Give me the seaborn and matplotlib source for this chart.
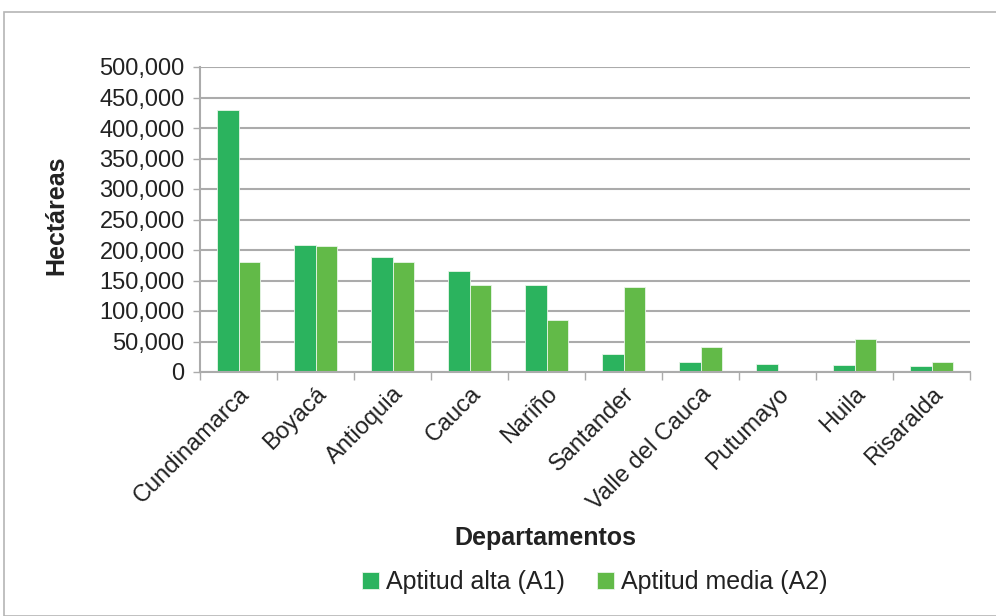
import matplotlib
matplotlib.use("Agg")
import matplotlib.pyplot as plt
from matplotlib.patches import Rectangle
from matplotlib.ticker import FuncFormatter, FixedLocator, MultipleLocator
import seaborn as sns
import pandas as pd
import numpy as np

departamentos = ["Cundinamarca", "Boyacá", "Antioquia", "Cauca", "Nariño",
                 "Santander", "Valle del Cauca", "Putumayo", "Huila", "Risaralda"]
aptitud_alta = [430000, 207500, 189000, 164800, 142500, 29000, 16000, 13300, 11000, 9500]
aptitud_media = [181000, 206500, 181000, 142400, 84700, 140100, 41700, 1500, 54500, 17200]
series_names = ["Aptitud alta (A1)", "Aptitud media (A2)"]
colors = ["#2BB35E", "#62BA48"]

df = pd.DataFrame({
    "Departamento": departamentos * 2,
    "Serie": [series_names[0]] * len(departamentos) + [series_names[1]] * len(departamentos),
    "Hectáreas": aptitud_alta + aptitud_media,
})

sns.set_theme(style="white")
plt.rcParams["font.family"] = ["Liberation Sans", "DejaVu Sans"]

fig = plt.figure(figsize=(9.96, 6.16), dpi=100)
ax = fig.add_axes([200 / 996, 1 - 372 / 616, 770 / 996, 305 / 616])

sns.barplot(data=df, x="Departamento", y="Hectáreas", hue="Serie",
            palette=colors, width=0.56, ax=ax, edgecolor="#E8F5E8", linewidth=0.6,
            saturation=1, legend=True)

grid_c = "#ABABAB"
txt_c = "#222222"
ax.set_ylim(0, 500000)
ax.set_xlim(-0.5, len(departamentos) - 0.5)
ax.yaxis.set_major_locator(MultipleLocator(50000))
ax.yaxis.set_major_formatter(FuncFormatter(lambda v, p: f"{int(v):,}"))
ax.grid(axis="y", color=grid_c, linewidth=1.5)
ax.set_axisbelow(True)
for s in ["top", "right"]:
    ax.spines[s].set_visible(False)
for s in ["left", "bottom"]:
    ax.spines[s].set_color(grid_c)
    ax.spines[s].set_linewidth(1.5)

ax.tick_params(axis="y", length=5, width=1, color=grid_c, labelsize=17,
               labelcolor=txt_c, pad=6, left=True)
ax.tick_params(axis="x", which="major", length=0, labelsize=17,
               labelcolor=txt_c, pad=8)
ax.xaxis.set_minor_locator(FixedLocator(np.arange(-0.5, len(departamentos), 1.0)))
ax.tick_params(axis="x", which="minor", length=6, width=1, color=grid_c, bottom=True)
plt.setp(ax.get_xticklabels(), rotation=45, ha="right", rotation_mode="anchor")

ax.set_xlabel("")
ax.set_ylabel("")
fig.text(545 / 996, 1 - 538 / 616, "Departamentos", fontsize=18, fontweight="bold",
         color=txt_c, ha="center", va="center")
fig.text(56 / 996, 1 - 215 / 616, "Hectáreas", fontsize=18, fontweight="bold",
         color=txt_c, ha="center", va="center", rotation=90)

handles, labels = ax.get_legend_handles_labels()
ax.legend(handles, labels, loc="center", bbox_to_anchor=(595 / 996, 1 - 582 / 616),
          bbox_transform=fig.transFigure, ncol=2, frameon=False, fontsize=18,
          handlelength=0.65, handleheight=0.65, handletextpad=0.3, columnspacing=1.3,
          labelcolor=txt_c)

fig.patches.append(Rectangle((4 / 996, 0), 1.2, 1 - 12 / 616, transform=fig.transFigure,
                             fill=False, edgecolor="#B5B5B5", linewidth=1.2))

fig.savefig("out.png", dpi=100, facecolor="white")
